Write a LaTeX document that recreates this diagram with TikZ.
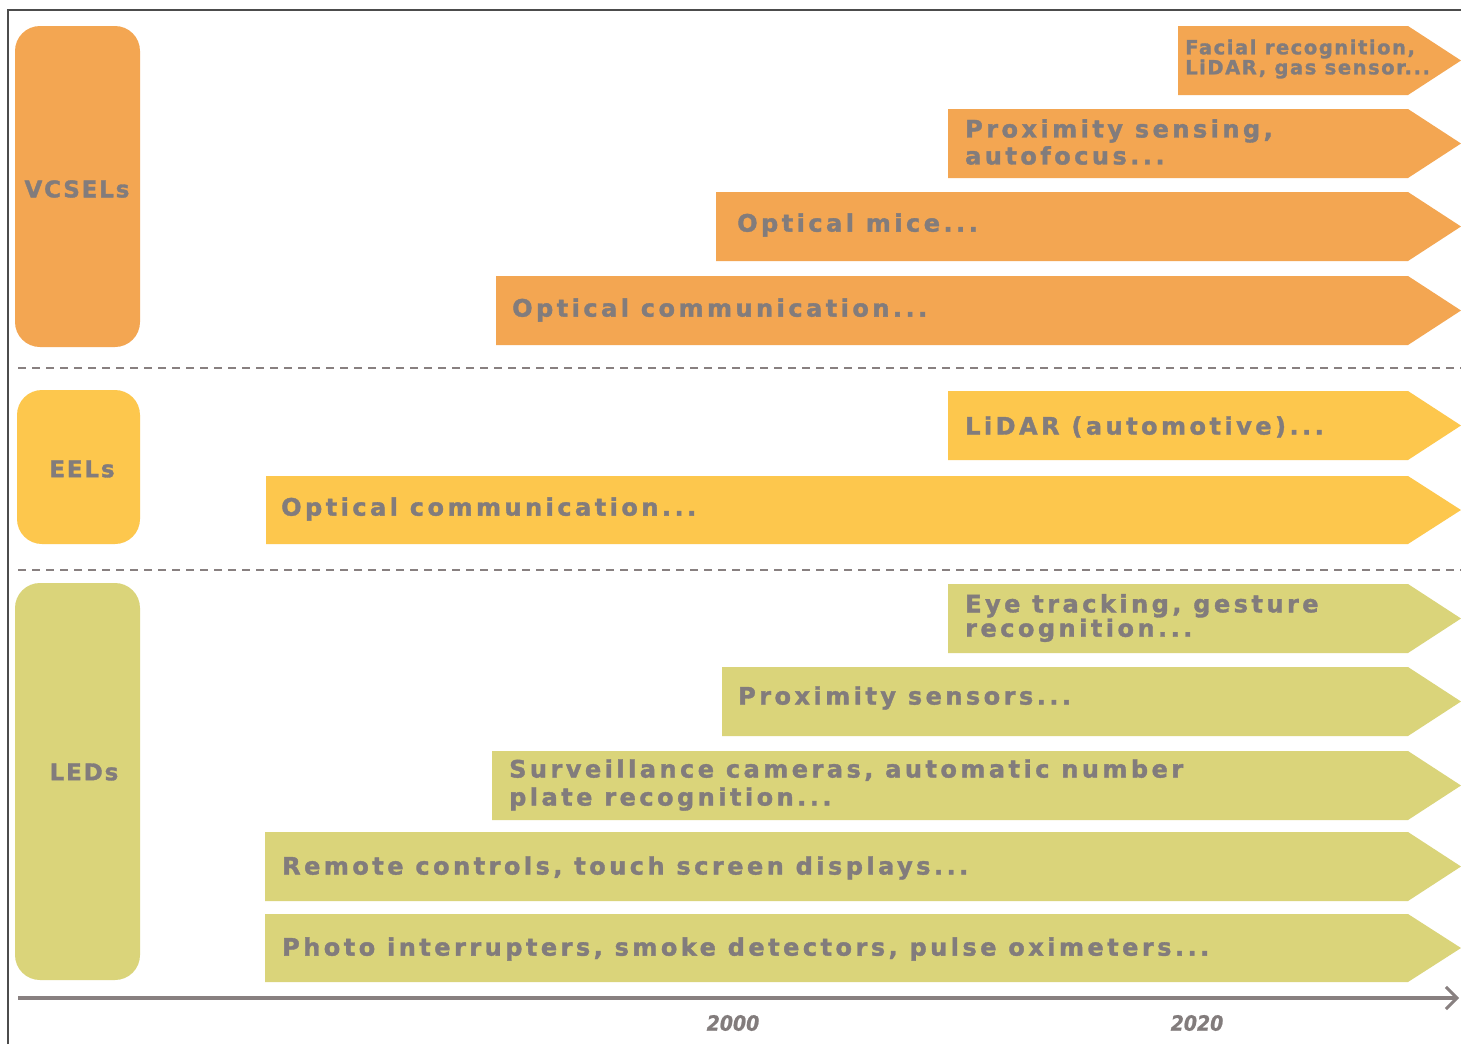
\documentclass[tikz,border=0pt]{standalone}
\usepackage{fontspec}
\usepackage{tikz}
\usetikzlibrary{arrows.meta}
\newfontfamily\labfont{DejaVu Sans}[LetterSpace=14.5,BoldFeatures={FakeBold=1.5}]
\newfontfamily\famfont{DejaVu Sans}[LetterSpace=8.0,BoldFeatures={FakeBold=1.5}]
\newfontfamily\yearfont{DejaVu Sans Condensed}[BoldItalicFeatures={FakeBold=1}]
\definecolor{vcselc}{RGB}{243,166,82}
\definecolor{eelc}{RGB}{253,199,77}
\definecolor{ledc}{RGB}{218,212,122}
\definecolor{txtgray}{RGB}{130,124,124}
\definecolor{axgray}{RGB}{136,128,128}
\tikzset{
  lab/.style={anchor=west,inner sep=0pt,text=txtgray,align=left,
    font=\labfont\bfseries\fontsize{24}{27}\selectfont},
  famlab/.style={text=txtgray,inner sep=0pt,
    font=\famfont\bfseries\fontsize{23}{27}\selectfont},
  sep/.style={axgray,line width=2pt,dash pattern=on 8pt off 6pt}
}
\begin{document}
\begin{tikzpicture}[x=1pt,y=-1pt]
\useasboundingbox (0,0) rectangle (1461,1044);
\fill[white] (0,0) rectangle (1461,1044);
\draw [line width=1.5pt,black!70] (8,1044)--(8,10)--(1461,10);

% family boxes
\fill[vcselc,rounded corners=25pt] (15,26) rectangle (140,347);
\node[famlab] (vcsel) at (77,189) {VCSELs};
\fill[eelc,rounded corners=25pt] (17,390) rectangle (140,544);
\node[famlab] (eel) at (82,469) {EELs};
\fill[ledc,rounded corners=25pt] (15,583) rectangle (140,980);
\node[famlab] (led) at (84,772) {LEDs};

% VCSELs
\fill[vcselc] (1178,26)--(1408,26)--(1461,60.5)--(1408,95)--(1178,95)--cycle;
\node[lab,font=\famfont\bfseries\fontsize{19.5}{20}\selectfont] (face) at (1185,59) {Facial recognition,\\LiDAR, gas sensor...};
\fill[vcselc] (948,109)--(1408,109)--(1461,143.5)--(1408,178)--(948,178)--cycle;
\node[lab] (prox) at (965,142) {Proximity sensing,\\autofocus...};
\fill[vcselc] (716,192)--(1408,192)--(1461,226.5)--(1408,261)--(716,261)--cycle;
\node[lab] (mice) at (737,225) {Optical mice...};
\fill[vcselc] (496,276)--(1408,276)--(1461,310.5)--(1408,345)--(496,345)--cycle;
\node[lab] (optv) at (512,310) {Optical communication...};

\draw [sep] (18,368)--(1461,368);

% EELs
\fill[eelc] (948,391)--(1408,391)--(1461,425.5)--(1408,460)--(948,460)--cycle;
\node[lab] (lidar) at (965,427) {LiDAR (automotive)...};
\fill[eelc] (266,476)--(1408,476)--(1461,510)--(1408,544)--(266,544)--cycle;
\node[lab] (opte) at (281,509) {Optical communication...};

\draw [sep] (18,570)--(1461,570);

% LEDs
\fill[ledc] (948,584)--(1408,584)--(1461,618.5)--(1408,653)--(948,653)--cycle;
\node[lab,font=\labfont\bfseries\fontsize{24}{22}\selectfont] (eye) at (965,618) {Eye tracking, gesture\\recognition...};
\fill[ledc] (722,667)--(1408,667)--(1461,701.5)--(1408,736)--(722,736)--cycle;
\node[lab] (proxs) at (738,698) {Proximity sensors...};
\fill[ledc] (492,751)--(1408,751)--(1461,785.5)--(1408,820)--(492,820)--cycle;
\node[lab,font=\labfont\bfseries\fontsize{24}{28}\selectfont] (surv) at (509,785) {Surveillance cameras, automatic number\\plate recognition...};
\fill[ledc] (265,832)--(1408,832)--(1461,866.5)--(1408,901)--(265,901)--cycle;
\node[lab] (remote) at (282,868) {Remote controls, touch screen displays...};
\fill[ledc] (265,914)--(1408,914)--(1461,948)--(1408,982)--(265,982)--cycle;
\node[lab] (photo) at (282,949) {Photo interrupters, smoke detectors, pulse oximeters...};

% time axis
\coordinate (axl) at (18,998);
\coordinate (axr) at (1459,998);
\draw [axgray,line width=4pt,-{Straight Barb[length=11pt,width=22pt,line width=3pt]}] (axl)--(axr);
\node[text=txtgray,font=\yearfont\bfseries\itshape\fontsize{21}{21}\selectfont] (y2000) at (733,1023) {2000};
\node[text=txtgray,font=\yearfont\bfseries\itshape\fontsize{21}{21}\selectfont] (y2020) at (1197,1023) {2020};

\end{tikzpicture}
\end{document}
